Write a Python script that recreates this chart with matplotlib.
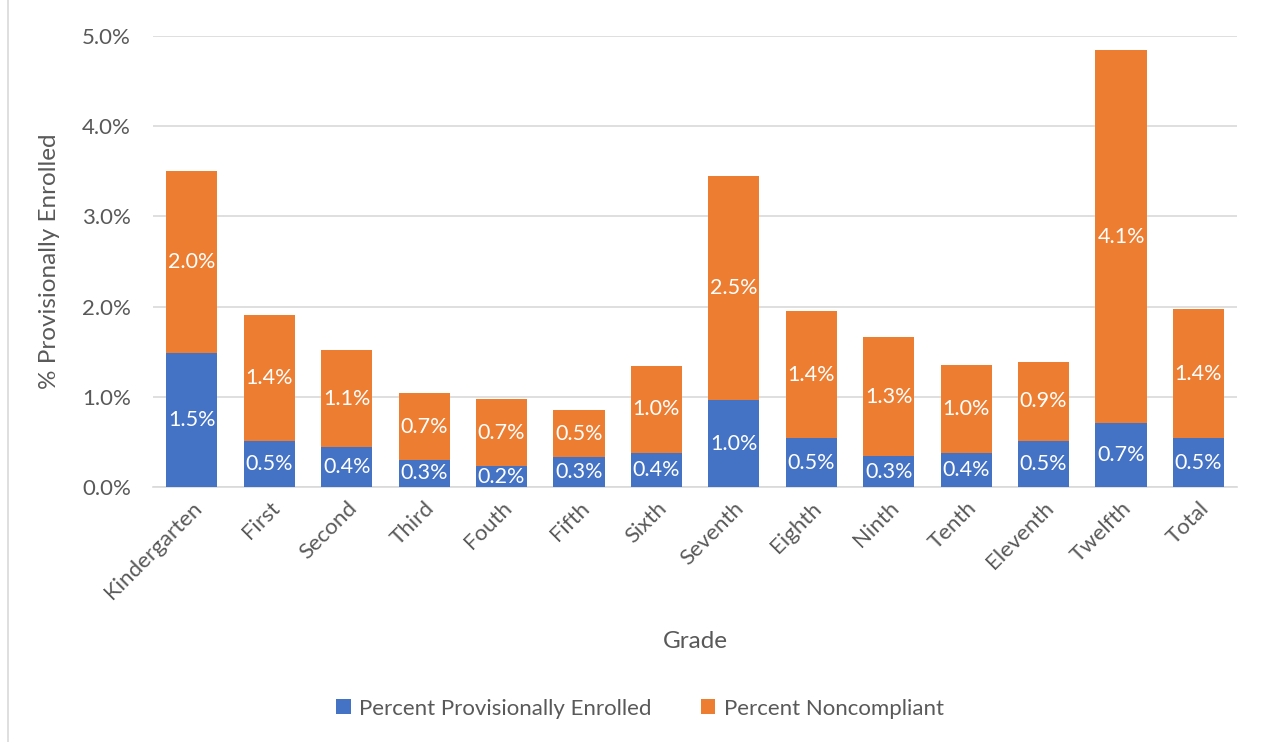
import numpy as np
import matplotlib.pyplot as plt
from matplotlib.ticker import FuncFormatter
from matplotlib.patches import Rectangle

plt.rcParams['font.family'] = ['Lato', 'DejaVu Sans']

grades = ["Kindergarten", "First", "Second", "Third", "Fouth", "Fifth", "Sixth",
          "Seventh", "Eighth", "Ninth", "Tenth", "Eleventh", "Twelfth", "Total"]
provisional = [1.48, 0.51, 0.44, 0.30, 0.23, 0.33, 0.38, 0.96, 0.54, 0.34, 0.38, 0.51, 0.71, 0.54]
noncompliant = [2.02, 1.40, 1.08, 0.74, 0.74, 0.52, 0.96, 2.49, 1.41, 1.32, 0.97, 0.88, 4.13, 1.43]

blue = "#4472C4"
orange = "#ED7D31"
grey = "#595959"

fig = plt.figure(figsize=(12.65, 7.42), dpi=100)
ax = fig.add_axes([0.121, 0.3437, 0.857, 0.6078])

x = np.arange(len(grades))
b1 = ax.bar(x, provisional, width=0.66, color=blue, label="Percent Provisionally Enrolled", zorder=3)
b2 = ax.bar(x, noncompliant, width=0.66, bottom=provisional, color=orange,
            label="Percent Noncompliant", zorder=3)

ax.bar_label(b1, labels=["{:.1f}%".format(v) for v in provisional], label_type="center",
             color="white", fontsize=15.5)
ax.bar_label(b2, labels=["{:.1f}%".format(v) for v in noncompliant], label_type="center",
             color="white", fontsize=15.5)

ax.set_xlim(-0.5, len(grades) - 0.5)
ax.set_ylim(0, 5.0)
ax.set_yticks(np.arange(0, 5.01, 1.0))
ax.yaxis.set_major_formatter(FuncFormatter(lambda v, p: "{:.1f}%".format(v)))
ax.grid(axis="y", color="#d9d9d9", linewidth=1.2, zorder=0)

for s in ["top", "right", "left"]:
    ax.spines[s].set_visible(False)
ax.spines["bottom"].set_color("#d9d9d9")
ax.spines["bottom"].set_linewidth(1.2)

ax.tick_params(axis="both", length=0, colors=grey, labelsize=16)
ax.tick_params(axis="y", pad=16)
ax.tick_params(axis="x", pad=8)
ax.set_xticks(x)
ax.set_xticklabels(grades, rotation=45, ha="right", rotation_mode="anchor")

ax.set_ylabel("% Provisionally Enrolled", fontsize=17.5, color=grey, labelpad=16)
ax.set_xlabel("Grade", fontsize=17.5, color=grey, labelpad=20)

fig.legend(handles=[b1, b2], loc="center", bbox_to_anchor=(0.506, 0.045), ncol=2,
           frameon=False, fontsize=16, labelcolor=grey, handlelength=0.65,
           handleheight=0.65, columnspacing=2.2, handletextpad=0.4)

fig.patches.append(Rectangle((0.006, -0.01), 1.5, 1.5, transform=fig.transFigure,
                             fill=False, edgecolor="#d9d9d9", linewidth=1.2))

fig.savefig("out.png", dpi=100)
